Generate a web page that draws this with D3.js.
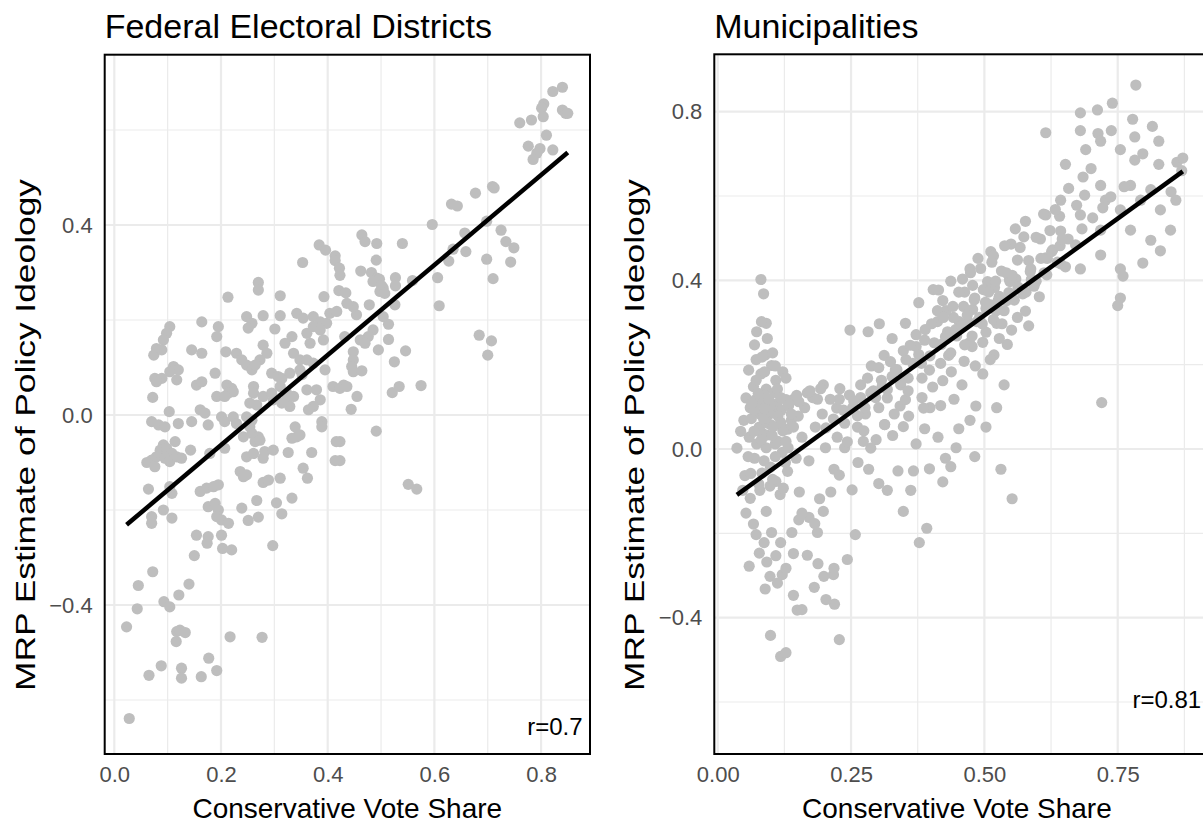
<!DOCTYPE html>
<html>
<head>
<meta charset="utf-8">
<script src="https://cdn.jsdelivr.net/npm/d3@7"></script>
<style>
  body { margin: 0; background: #fff; }
  text { font-family: "Liberation Sans", Arial, Helvetica, sans-serif; }
</style>
</head>
<body>
<svg id="chart" width="1203" height="826"></svg>
<script>
// ---- data: [conservative vote share, MRP ideology estimate] ----
const fedPoints = [
  [0.384,0.358],[0.396,0.347],[0.414,0.335],[0.414,0.325],[0.422,0.309],[0.423,0.294],[0.353,0.321],
  [0.270,0.279],[0.270,0.263],[0.213,0.248],[0.311,0.251],[0.393,0.249],[0.421,0.262],[0.434,0.257],
  [0.840,0.690],[0.822,0.681],[0.805,0.655],[0.801,0.646],[0.804,0.628],[0.840,0.642],[0.846,0.635],
  [0.850,0.635],[0.760,0.615],[0.782,0.621],[0.810,0.589],[0.776,0.566],[0.798,0.561],[0.822,0.558],
  [0.792,0.551],[0.785,0.538],[0.709,0.481],[0.712,0.478],[0.677,0.467],[0.632,0.444],[0.643,0.440],
  [0.596,0.401],[0.698,0.408],[0.725,0.389],[0.734,0.365],[0.749,0.352],[0.657,0.383],[0.635,0.349],
  [0.659,0.344],[0.627,0.324],[0.698,0.328],[0.743,0.322],[0.710,0.287],[0.606,0.289],[0.559,0.283],
  [0.540,0.361],[0.464,0.379],[0.470,0.365],[0.492,0.361],[0.491,0.326],[0.462,0.303],[0.482,0.300],
  [0.492,0.288],[0.497,0.286],[0.485,0.281],[0.504,0.267],[0.501,0.272],[0.527,0.289],[0.527,0.272],
  [0.609,0.230],[0.684,0.168],[0.707,0.156],[0.700,0.126],[0.551,-0.146],[0.567,-0.156],[0.491,-0.034],
  [0.575,0.062],[0.521,0.047],[0.534,0.060],[0.525,0.112],[0.546,0.135],[0.495,0.137],[0.514,0.159],
  [0.514,0.191],[0.504,0.207],[0.485,0.179],[0.476,0.165],[0.461,0.158],[0.470,0.151],[0.526,0.232],
  [0.478,0.232],[0.454,0.211],[0.448,0.228],[0.436,0.235],[0.498,0.260],[0.507,0.256],[0.448,0.133],
  [0.448,0.116],[0.445,0.102],[0.448,0.091],[0.464,0.093],[0.432,0.165],[0.430,0.063],[0.455,0.039],
  [0.444,0.012],[0.423,-0.056],[0.423,-0.096],
  [0.164,0.196],[0.104,0.186],[0.098,0.172],[0.092,0.158],[0.079,0.140],[0.074,0.126],[0.089,0.137],
  [0.195,0.186],[0.192,0.165],[0.248,0.207],[0.258,0.193],[0.251,0.183],[0.279,0.209],[0.311,0.209],
  [0.301,0.181],[0.342,0.214],[0.354,0.204],[0.373,0.207],[0.386,0.196],[0.398,0.193],[0.404,0.214],
  [0.417,0.218],[0.373,0.186],[0.361,0.172],[0.386,0.179],[0.392,0.158],[0.367,0.151],[0.333,0.165],
  [0.320,0.151],[0.145,0.137],[0.164,0.130],[0.209,0.133],[0.229,0.130],[0.239,0.116],[0.248,0.105],
  [0.258,0.095],[0.279,0.147],[0.286,0.130],[0.273,0.116],[0.264,0.105],[0.336,0.130],[0.348,0.116],
  [0.361,0.116],[0.373,0.109],[0.348,0.095],[0.295,0.088],[0.307,0.081],[0.314,0.077],[0.329,0.088],
  [0.352,0.085],[0.395,0.095],[0.410,0.060],[0.423,0.056],[0.436,0.060],[0.111,0.102],[0.120,0.095],
  [0.104,0.091],[0.117,0.074],[0.076,0.077],[0.089,0.077],[0.079,0.070],[0.154,0.063],[0.164,0.070],
  [0.189,0.088],[0.211,0.063],[0.220,0.056],[0.214,0.046],[0.223,0.049],[0.261,0.060],[0.261,0.046],
  [0.279,0.039],[0.295,0.046],[0.298,0.032],[0.311,0.060],[0.323,0.046],[0.323,0.032],[0.336,0.039],
  [0.329,0.018],[0.314,0.025],[0.361,0.053],[0.379,0.053],[0.386,0.032],[0.373,0.018],[0.364,0.011],
  [0.072,0.037],[0.192,0.039],[0.207,0.039],[0.254,0.025],[0.267,0.021],[0.103,0.007],[0.161,0.011],
  [0.170,0.004],[0.070,-0.014],[0.083,-0.021],[0.095,-0.025],[0.120,-0.018],[0.145,-0.014],[0.176,-0.021],
  [0.201,-0.004],[0.207,-0.014],[0.223,-0.004],[0.229,-0.018],[0.248,-0.004],[0.258,-0.011],[0.254,-0.025],
  [0.242,-0.046],[0.258,-0.039],[0.270,-0.046],[0.264,-0.056],[0.273,-0.053],[0.092,-0.063],[0.086,-0.074],
  [0.098,-0.070],[0.108,-0.081],[0.079,-0.088],[0.070,-0.095],[0.061,-0.100],[0.076,-0.109],[0.095,-0.091],
  [0.104,-0.098],[0.117,-0.088],[0.126,-0.091],[0.114,-0.056],[0.143,-0.074],[0.179,-0.081],[0.207,-0.070],
  [0.248,-0.088],[0.261,-0.081],[0.279,-0.091],[0.282,-0.077],[0.298,-0.074],[0.326,-0.079],[0.370,-0.079],
  [0.416,-0.056],[0.414,-0.096],[0.339,-0.025],[0.342,-0.046],[0.333,-0.049],[0.348,-0.042],[0.389,-0.014],
  [0.389,-0.025],[0.064,-0.156],[0.104,-0.151],[0.108,-0.165],[0.161,-0.161],[0.173,-0.154],[0.186,-0.151],
  [0.195,-0.147],[0.236,-0.119],[0.242,-0.130],[0.248,-0.126],[0.279,-0.142],[0.289,-0.137],[0.311,-0.133],
  [0.354,-0.112],[0.362,-0.133],[0.176,-0.193],[0.189,-0.186],[0.195,-0.200],[0.192,-0.214],[0.201,-0.221],
  [0.214,-0.228],[0.239,-0.196],[0.267,-0.180],[0.304,-0.185],[0.314,-0.208],[0.333,-0.175],[0.251,-0.222],
  [0.270,-0.215],[0.070,-0.214],[0.070,-0.228],[0.092,-0.200],[0.108,-0.217],[0.154,-0.253],[0.176,-0.256],
  [0.201,-0.253],[0.174,-0.270],[0.203,-0.281],[0.220,-0.284],[0.297,-0.275],[0.150,-0.296],[0.072,-0.330],
  [0.045,-0.359],[0.140,-0.356],[0.121,-0.379],[0.093,-0.393],[0.104,-0.404],[0.043,-0.408],[0.023,-0.446],
  [0.117,-0.456],[0.123,-0.453],[0.133,-0.458],[0.116,-0.477],[0.217,-0.467],[0.277,-0.468],[0.177,-0.512],
  [0.088,-0.528],[0.065,-0.548],[0.126,-0.533],[0.126,-0.554],[0.163,-0.551],[0.192,-0.538],[0.028,-0.639]
];

const munPoints = [
  // upper right
  [0.784,0.863],[0.740,0.820],[0.712,0.804],[0.680,0.797],[0.680,0.755],[0.713,0.748],[0.738,0.755],
  [0.778,0.782],[0.782,0.740],[0.815,0.765],[0.797,0.700],[0.827,0.730],[0.827,0.675],[0.861,0.680],
  [0.872,0.690],[0.782,0.685],[0.755,0.710],[0.718,0.730],[0.690,0.710],[0.652,0.675],[0.685,0.645],
  [0.700,0.665],[0.718,0.625],[0.774,0.625],[0.812,0.615],[0.850,0.610],[0.859,0.590],[0.830,0.567],
  [0.793,0.590],[0.755,0.567],[0.727,0.590],[0.680,0.555],[0.643,0.590],[0.615,0.555],[0.577,0.540],
  [0.605,0.498],[0.643,0.517],[0.671,0.484],[0.718,0.519],[0.774,0.519],[0.812,0.495],[0.849,0.519],
  [0.830,0.470],[0.797,0.441],[0.755,0.427],[0.760,0.410],[0.718,0.460],[0.680,0.427],[0.643,0.439],
  [0.615,0.453],[0.587,0.427],[0.559,0.403],[0.550,0.486],[0.615,0.750],[0.755,0.358],[0.750,0.340],
  [0.720,0.110],[0.870,0.660],
  // middle band
  [0.453,0.302],[0.478,0.331],[0.502,0.348],[0.519,0.383],[0.548,0.397],[0.472,0.252],[0.431,0.278],[0.398,0.221],
  [0.382,0.203],[0.357,0.168],[0.343,0.152],[0.318,0.121],[0.302,0.098],[0.277,0.083],[0.262,0.052],[0.238,0.061],
  [0.403,0.147],[0.418,0.103],[0.452,0.048],[0.483,0.197],[0.497,0.253],[0.523,0.298],[0.551,0.282],[0.577,0.327],
  [0.603,0.361],[0.348,0.053],[0.297,0.022],[0.283,-0.048],[0.252,-0.097],[0.258,-0.203],[0.243,-0.262],[0.217,-0.298],
  [0.338,-0.052],[0.362,-0.098],[0.397,-0.047],[0.447,0.003],[0.531,-0.048],[0.552,-0.118],[0.378,-0.222],[0.392,-0.188],
  [0.437,0.398],[0.473,0.427],[0.488,0.452],[0.512,0.468],[0.558,0.522],[0.583,0.447],[0.618,0.452],[0.248,0.282],
  [0.282,0.278],[0.303,0.297],[0.327,0.262],[0.352,0.298],[0.198,0.152],[0.223,0.097],[0.178,0.122],[0.163,0.098],
  [0.183,0.052],[0.202,0.003],[0.218,-0.048],[0.171,-0.028],[0.153,-0.102],[0.187,-0.198],[0.168,-0.252],[0.547,0.402],
  [0.506,0.397],[0.422,0.352],[0.404,0.378],[0.377,0.347],
  [0.419,0.248],[0.433,0.222],[0.442,0.312],[0.448,0.268],[0.461,0.338],[0.469,0.302],[0.482,0.358],[0.491,0.312],
  [0.498,0.378],[0.512,0.342],[0.522,0.328],[0.528,0.362],[0.542,0.352],[0.438,0.183],[0.462,0.208],[0.477,0.243],
  [0.503,0.277],[0.412,0.302],[0.388,0.258],[0.372,0.243],[0.353,0.212],[0.333,0.188],[0.307,0.163],[0.292,0.138],
  [0.268,0.122],[0.253,0.098],[0.228,0.118],[0.312,0.222],[0.288,0.197],[0.342,0.102],[0.358,0.078],[0.383,0.122],
  [0.398,0.098],[0.422,0.162],[0.443,0.118],[0.458,0.152],[0.484,0.102],[0.497,0.178],[0.518,0.223],[0.543,0.248],
  [0.562,0.312],[0.572,0.368],[0.588,0.402],[0.612,0.418],[0.532,0.422],[0.478,0.388],[0.463,0.372],[0.428,0.328],
  [0.517,0.458],[0.538,0.482],[0.562,0.448],[0.597,0.502],[0.623,0.518],[0.641,0.552],[0.657,0.498],[0.628,0.472],
  [0.652,0.432],[0.673,0.578],[0.688,0.602],[0.703,0.548],[0.722,0.572],[0.737,0.598],[0.762,0.622],[0.658,0.618],
  [0.642,0.482],[0.683,0.522],[0.313,0.058],[0.328,0.032],[0.372,0.012],[0.388,0.048],[0.413,0.028],[0.427,-0.022],
  [0.473,0.068],[0.287,0.002],[0.273,0.018],[0.238,0.003],[0.263,-0.032],[0.318,-0.098],[0.302,-0.082],[0.348,-0.148],
  [0.367,-0.052],[0.422,-0.078],[0.437,-0.042],[0.482,-0.018],[0.503,0.052],[0.523,0.098],[0.537,0.152],
  [0.203,0.050],[0.196,0.083],[0.211,0.118],[0.224,0.028],[0.217,0.071],[0.229,0.143],[0.236,0.092],[0.247,0.128],
  [0.243,0.017],[0.262,0.079],[0.255,0.114],[0.268,0.152],[0.276,0.098],[0.287,0.133],[0.281,0.168],[0.274,0.043],
  [0.296,0.122],[0.308,0.147],[0.302,0.193],[0.313,0.058],[0.318,0.141],[0.327,0.172],[0.324,0.207],[0.331,0.083],
  [0.343,0.158],[0.336,0.188],[0.348,0.233],[0.352,0.117],[0.357,0.138],[0.366,0.203],[0.361,0.246],[0.372,0.271],
  [0.383,0.168],[0.377,0.224],[0.389,0.283],[0.386,0.097],[0.397,0.187],[0.406,0.252],[0.401,0.297],[0.412,0.328],
  [0.418,0.203],[0.427,0.266],[0.423,0.312],[0.414,0.377],[0.437,0.228],[0.446,0.283],[0.441,0.338],[0.452,0.372],
  [0.463,0.247],[0.457,0.292],[0.468,0.318],[0.459,0.403],[0.477,0.268],[0.486,0.302],[0.481,0.354],[0.474,0.418],
  [0.496,0.297],[0.503,0.333],[0.508,0.372],[0.493,0.428],[0.511,0.212],[0.517,0.307],[0.526,0.353],[0.521,0.398],
  [0.514,0.443],[0.528,0.262],[0.537,0.328],[0.546,0.371],[0.541,0.418],[0.533,0.297],[0.556,0.353],[0.563,0.384],
  [0.552,0.412],[0.567,0.478],[0.578,0.372],[0.586,0.421],[0.574,0.503],[0.583,0.292],[0.597,0.398],[0.606,0.452],
  [0.593,0.386],[0.617,0.413],[0.626,0.468],[0.611,0.557],[0.637,0.443],[0.646,0.498],[0.633,0.568],
  // low vote share cluster
  [0.061,0.098],[0.071,0.117],[0.079,0.083],[0.091,0.142],[0.099,0.058],[0.111,0.107],[0.119,0.092],[0.131,0.047],
  [0.081,0.178],[0.089,0.223],[0.069,0.247],[0.101,0.198],[0.109,0.163],[0.141,0.117],[0.151,0.078],[0.059,0.028],
  [0.069,-0.022],[0.091,0.003],[0.099,-0.043],[0.121,-0.008],[0.051,-0.063],[0.061,-0.117],[0.079,-0.098],[0.091,-0.148],
  [0.109,-0.077],[0.131,-0.053],[0.036,0.002],[0.049,0.068],[0.081,0.402],[0.086,0.368],[0.091,0.298],[0.101,-0.198],
  [0.109,-0.253],[0.121,-0.298],[0.089,-0.332],[0.099,-0.442],[0.118,-0.492],[0.128,-0.483],[0.149,-0.382],[0.158,-0.381],
  [0.181,-0.328],[0.199,-0.302],[0.219,-0.368],[0.228,-0.452],[0.059,-0.278],[0.139,-0.198],[0.171,-0.162],[0.191,-0.118],
  [0.053,0.121],[0.067,0.148],[0.072,0.163],[0.088,0.127],[0.093,0.113],[0.107,0.134],[0.112,0.142],[0.128,0.117],
  [0.133,0.103],[0.148,0.127],[0.152,0.112],[0.168,0.133],[0.173,0.138],[0.187,0.118],[0.193,0.143],[0.063,0.072],
  [0.078,0.052],[0.083,0.038],[0.097,0.083],[0.102,0.088],[0.118,0.058],[0.122,0.043],[0.138,0.068],[0.142,0.052],
  [0.158,0.028],[0.073,0.012],[0.087,-0.028],[0.092,0.033],[0.108,0.012],[0.113,0.018],[0.127,-0.032],[0.132,0.003],
  [0.147,-0.022],[0.057,-0.018],[0.043,0.042],[0.062,-0.058],[0.077,-0.083],[0.083,-0.057],[0.098,-0.088],
  [0.103,-0.072],[0.117,-0.108],[0.123,-0.093],[0.058,0.187],[0.072,0.212],[0.083,0.218],[0.088,0.183],[0.103,0.228],
  [0.108,0.197],[0.122,0.183],[0.128,0.168],[0.073,0.278],[0.082,0.302],[0.093,0.262],[0.047,-0.098],[0.053,-0.152],
  [0.067,-0.178],[0.072,-0.203],[0.078,-0.247],[0.087,-0.222],[0.092,-0.268],[0.098,-0.302],[0.112,-0.318],[0.128,-0.283],
  [0.118,-0.222],[0.142,-0.248],[0.152,-0.168],[0.158,-0.152],[0.182,-0.177],[0.198,-0.148],[0.212,-0.102],[0.228,-0.062],
  [0.142,-0.347],[0.188,-0.272],[0.203,-0.357],[0.218,-0.283],
  [0.068,0.093],[0.082,0.108],[0.092,0.062],[0.098,0.102],[0.113,0.078],[0.118,0.063],[0.132,0.108],[0.068,0.042],
  [0.082,0.022],[0.088,0.097],[0.102,0.032],[0.108,-0.018],[0.118,0.122],[0.128,0.018],[0.138,0.083],[0.086,0.072],
  [0.096,0.118],[0.104,0.053],[0.076,0.132],[0.064,0.108]
];

// fitted lines: [intercept, slope]
const fedFit = [-0.253, 0.948];
const munFit = [-0.142, 0.918];

// correlation labels (centre of the text)
const fedLabel = { text: "r=0.7", x: 0.826, y: -0.655 };
const munLabel = { text: "r=0.81", x: 0.842, y: -0.595 };

// axis limits and breaks
const fedXDomain = [-0.018, 0.8917];
const fedYDomain = [-0.7137, 0.7585];
const munXDomain = [-0.0064, 0.9144];
const munYDomain = [-0.7233, 0.936];

const fedXTicks = [0, 0.2, 0.4, 0.6, 0.8];
const fedXMinor = [0.1, 0.3, 0.5, 0.7];
const fedYTicks = [-0.4, 0, 0.4];
const fedYMinor = [-0.6, -0.2, 0.2, 0.6];
const munXTicks = [0, 0.25, 0.5, 0.75];
const munXMinor = [0.125, 0.375, 0.625, 0.875];
const munYTicks = [-0.4, 0, 0.4, 0.8];
const munYMinor = [-0.6, -0.2, 0.2, 0.6];

const svg = d3.select("#chart");
const grey = "#bebebe";

function drawPanel(opt) {
  const pts = opt.points;
  const x = d3.scaleLinear().domain(opt.xDomain).range([opt.left, opt.right]);
  const y = d3.scaleLinear().domain(opt.yDomain).range([opt.bottom, opt.top]);
  const pr = x.range()[1]; // right edge of panel (may lie past the picture)

  const g = svg.append("g");
  const clip = "clip-" + opt.id;
  svg.append("clipPath").attr("id", clip)
    .append("rect")
    .attr("x", opt.left).attr("y", opt.top)
    .attr("width", pr - opt.left).attr("height", opt.bottom - opt.top);

  const inner = g.append("g").attr("clip-path", `url(#${clip})`);

  // grid
  const vgrid = (vals, w) => inner.append("g").selectAll("line").data(vals).join("line")
    .attr("x1", d => x(d)).attr("x2", d => x(d))
    .attr("y1", opt.top).attr("y2", opt.bottom)
    .attr("stroke", "#ebebeb").attr("stroke-width", w);
  const hgrid = (vals, w) => inner.append("g").selectAll("line").data(vals).join("line")
    .attr("y1", d => y(d)).attr("y2", d => y(d))
    .attr("x1", opt.left).attr("x2", pr)
    .attr("stroke", "#ebebeb").attr("stroke-width", w);
  vgrid(opt.xMinor, 1.2); hgrid(opt.yMinor, 1.2);
  vgrid(opt.xTicks, 2.2); hgrid(opt.yTicks, 2.2);

  // points
  inner.append("g").selectAll("circle").data(pts).join("circle")
    .attr("cx", d => x(d[0])).attr("cy", d => y(d[1]))
    .attr("r", 5.6).attr("fill", grey);

  // fitted line over the data range
  const fx = d3.extent(pts, d => d[0]);
  inner.append("path")
    .datum(fx.map(v => [v, opt.fit[0] + opt.fit[1] * v]))
    .attr("d", d3.line().x(d => x(d[0])).y(d => y(d[1])))
    .attr("stroke", "#000").attr("stroke-width", 4.5).attr("fill", "none");

  inner.append("text")
    .attr("x", x(opt.label.x)).attr("y", y(opt.label.y))
    .attr("text-anchor", "middle").attr("dy", "0.35em")
    .attr("font-size", 24).attr("fill", "#000")
    .text(opt.label.text);

  // panel border
  g.append("rect")
    .attr("x", opt.left).attr("y", opt.top)
    .attr("width", pr - opt.left).attr("height", opt.bottom - opt.top)
    .attr("fill", "none").attr("stroke", "#000").attr("stroke-width", 2);

  // axes (labels only, no tick marks)
  const xAxis = g.append("g").attr("transform", `translate(0,${opt.bottom + 6})`)
    .call(d3.axisBottom(x).tickValues(opt.xTicks).tickFormat(opt.xFmt).tickSize(0).tickPadding(6));
  const yAxis = g.append("g").attr("transform", `translate(${opt.left - 6},0)`)
    .call(d3.axisLeft(y).tickValues(opt.yTicks).tickSize(0).tickPadding(6)
      .tickFormat(d => d3.format(".1f")(d).replace("-", "\u2212")));
  [xAxis, yAxis].forEach(a => {
    a.select(".domain").remove();
    a.selectAll("text").attr("font-size", 22).attr("fill", "#4d4d4d")
      .attr("font-family", "'Liberation Sans', Arial, sans-serif");
  });

  g.append("text")
    .attr("x", opt.left + 242.6).attr("y", 818)
    .attr("text-anchor", "middle").attr("font-size", 28).attr("fill", "#000")
    .text("Conservative Vote Share");
  g.append("text")
    .attr("transform", `translate(${opt.left - 70},435) rotate(-90)`)
    .attr("text-anchor", "middle").attr("font-size", 28).attr("fill", "#000")
    .attr("textLength", 512).attr("lengthAdjust", "spacingAndGlyphs")
    .text("MRP Estimate of Policy Ideology");
  g.append("text")
    .attr("x", opt.left).attr("y", 38)
    .attr("font-size", 34).attr("fill", "#000")
    .text(opt.title);
}

drawPanel({
  id: "fed", title: "Federal Electoral Districts", points: fedPoints, label: fedLabel, fit: fedFit,
  left: 104.7, right: 590, top: 54.7, bottom: 754,
  xDomain: fedXDomain, yDomain: fedYDomain,
  xTicks: fedXTicks, xMinor: fedXMinor, yTicks: fedYTicks, yMinor: fedYMinor,
  xFmt: d3.format(".1f")
});
drawPanel({
  id: "mun", title: "Municipalities", points: munPoints, label: munLabel, fit: munFit,
  left: 714.3, right: 1205.4, top: 54.3, bottom: 754,
  xDomain: munXDomain, yDomain: munYDomain,
  xTicks: munXTicks, xMinor: munXMinor, yTicks: munYTicks, yMinor: munYMinor,
  xFmt: d3.format(".2f")
});
</script>
</body>
</html>
